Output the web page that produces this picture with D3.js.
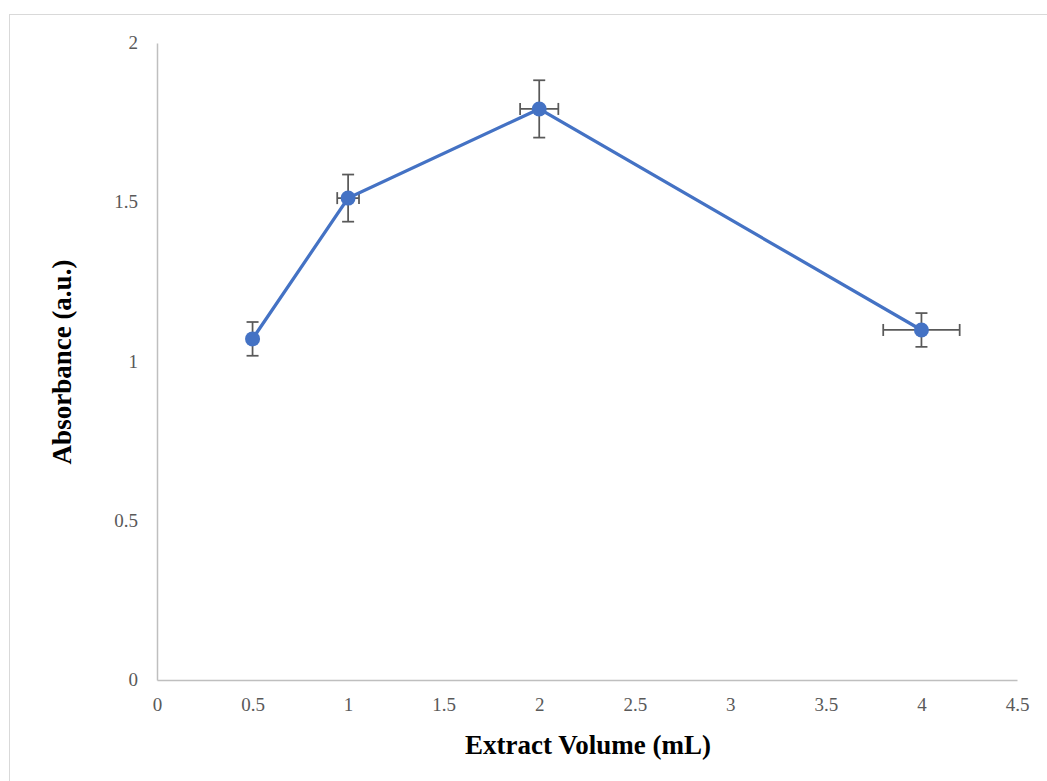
<!DOCTYPE html>
<html>
<head>
<meta charset="utf-8">
<script src="https://cdn.jsdelivr.net/npm/d3@7"></script>
<style>
  body { margin: 0; background: #fff; }
  svg { display: block; font-family: "Liberation Serif", "Times New Roman", serif; }
</style>
</head>
<body>
<div class="container"></div>
<script>
const width = 1047,
    height = 781;

// measured values
const volumes = [0.5, 1, 2, 4];
const absorbance = [1.071, 1.513, 1.793, 1.099];
const yErr = [0.053, 0.074, 0.09, 0.053];
const xErr = [0, 0.057, 0.1, 0.2];
const xTicks = [0, 0.5, 1, 1.5, 2, 2.5, 3, 3.5, 4, 4.5];
const yTicks = [0, 0.5, 1, 1.5, 2];

const data = volumes.map((v, i) => ({x: v, y: absorbance[i], ex: xErr[i], ey: yErr[i]}));

const x = d3.scaleLinear().domain([0, 4.5]).range([157, 1017]);
const y = d3.scaleLinear().domain([0, 2]).range([680, 43]);

const svg = d3.select('.container')
    .append('svg')
    .attr('width', width)
    .attr('height', height);

// chart border
svg.append('rect')
    .attr('x', 9.5)
    .attr('y', 14.5)
    .attr('width', width + 10)
    .attr('height', height + 10)
    .attr('fill', 'none')
    .attr('stroke', '#d9d9d9')
    .attr('stroke-width', 1);

// axes
const xAxis = svg.append('g')
    .attr('transform', `translate(0, ${y(0)})`)
    .call(d3.axisBottom(x).tickValues(xTicks).tickSize(0).tickPadding(20).tickFormat(d3.format('')));

const yAxis = svg.append('g')
    .attr('transform', `translate(${x(0)}, 0)`)
    .call(d3.axisLeft(y).tickValues(yTicks).tickSize(0).tickPadding(19).tickFormat(d3.format('')));

[xAxis, yAxis].forEach(a => {
    a.attr('font-size', null).attr('font-family', null);
    a.select('.domain').attr('stroke', '#bfbfbf').attr('stroke-width', 1.5);
    a.selectAll('text')
        .attr('fill', '#595959')
        .style('font-size', '19px')
        .style('font-family', '"Liberation Serif", "Times New Roman", serif');
});
xAxis.selectAll('text').attr('dy', '0.6em');
yAxis.selectAll('text').attr('dy', '0.3em');

// error bars
const err = svg.append('g')
    .attr('stroke', '#595959')
    .attr('stroke-width', 1.75)
    .attr('fill', 'none');

data.forEach(d => {
    const cx = x(d.x), cy = y(d.y);
    if (d.ey > 0) {
        err.append('line').attr('x1', cx).attr('x2', cx).attr('y1', y(d.y + d.ey)).attr('y2', y(d.y - d.ey));
        [d.y + d.ey, d.y - d.ey].forEach(v => {
            err.append('line').attr('x1', cx - 6).attr('x2', cx + 6).attr('y1', y(v)).attr('y2', y(v));
        });
    }
    if (d.ex > 0) {
        err.append('line').attr('x1', x(d.x - d.ex)).attr('x2', x(d.x + d.ex)).attr('y1', cy).attr('y2', cy);
        [d.x - d.ex, d.x + d.ex].forEach(v => {
            err.append('line').attr('x1', x(v)).attr('x2', x(v)).attr('y1', cy - 6).attr('y2', cy + 6);
        });
    }
});

// series line
svg.append('path')
    .datum(data)
    .attr('fill', 'none')
    .attr('stroke', '#4472C4')
    .attr('stroke-width', 3.25)
    .attr('d', d3.line().x(d => x(d.x)).y(d => y(d.y)));

svg.selectAll('circle.pt')
    .data(data)
    .enter()
    .append('circle')
    .attr('class', 'pt')
    .attr('cx', d => x(d.x))
    .attr('cy', d => y(d.y))
    .attr('r', 7.5)
    .attr('fill', '#4472C4');

// axis titles
svg.append('text')
    .attr('x', 588)
    .attr('y', 754)
    .attr('text-anchor', 'middle')
    .style('font-size', '27px')
    .style('font-weight', 'bold')
    .attr('fill', '#000')
    .text('Extract Volume (mL)');

svg.append('text')
    .attr('transform', 'translate(71, 362) rotate(-90)')
    .attr('text-anchor', 'middle')
    .style('font-size', '27px')
    .style('font-weight', 'bold')
    .attr('fill', '#000')
    .text('Absorbance (a.u.)');
</script>
</body>
</html>
